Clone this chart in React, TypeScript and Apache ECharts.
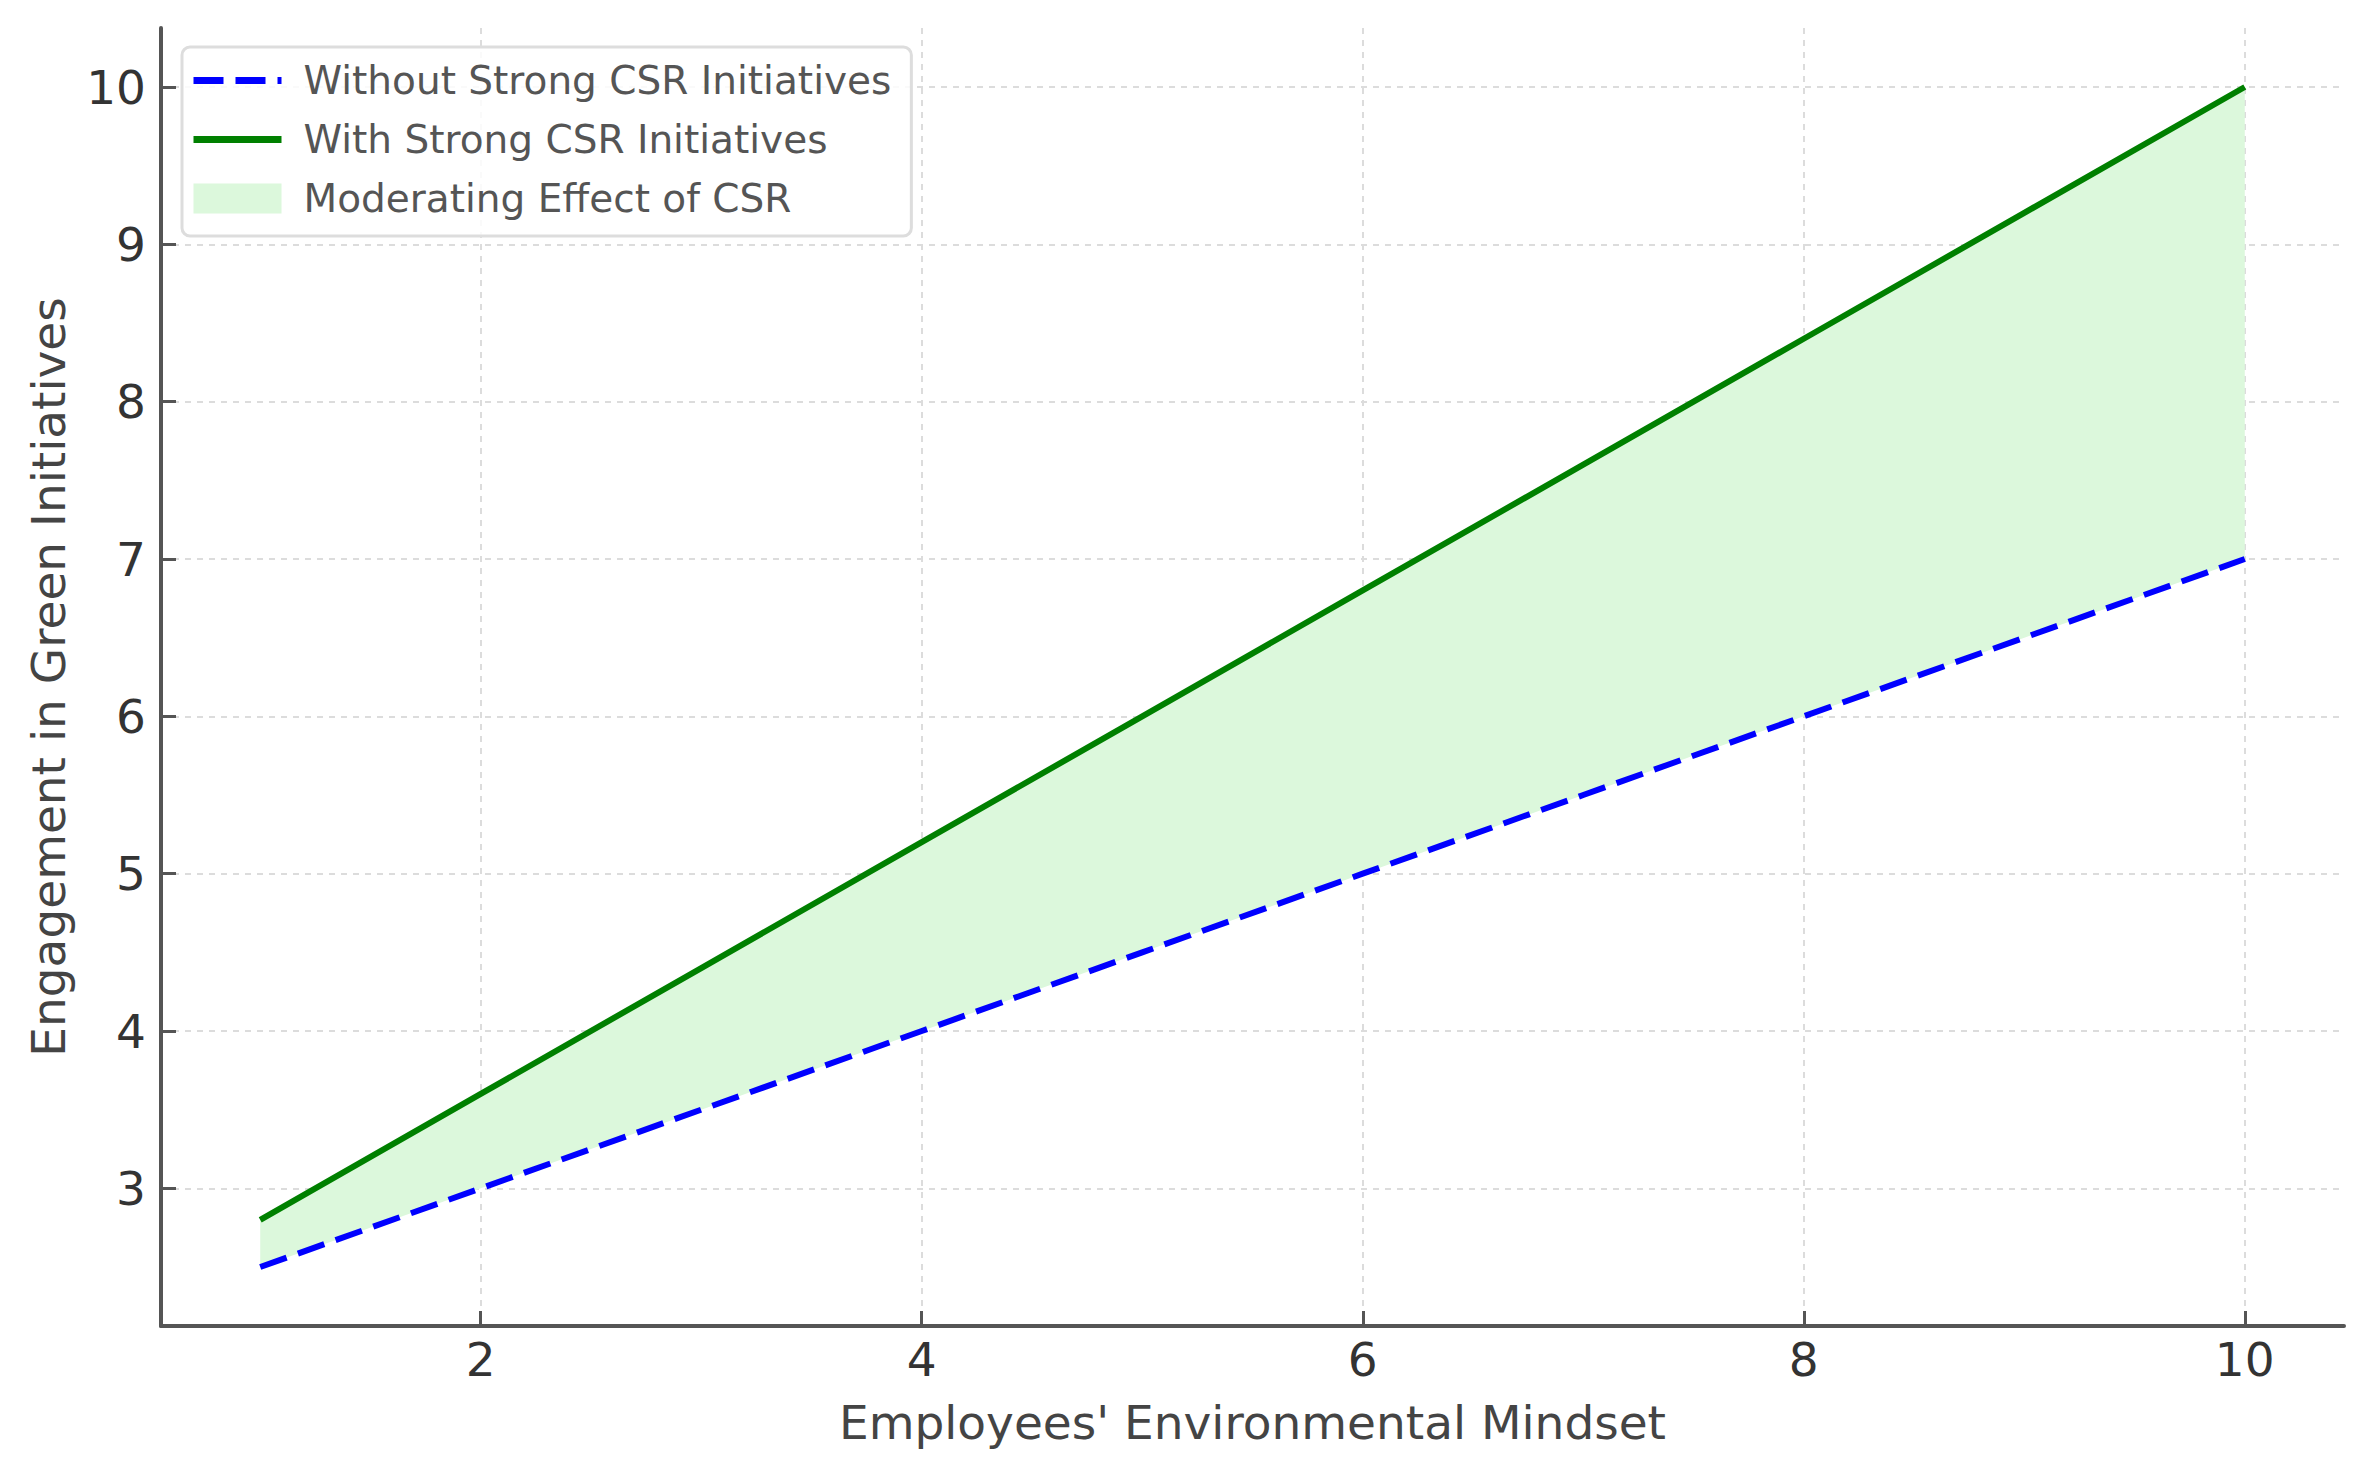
import React, { useEffect, useRef } from "react";
import * as echarts from "echarts";

const xValues = [1, 2, 3, 4, 5, 6, 7, 8, 9, 10];
const withoutCSR = [2.5, 3.0, 3.5, 4.0, 4.5, 5.0, 5.5, 6.0, 6.5, 7.0];
const withCSR = [2.8, 3.6, 4.4, 5.2, 6.0, 6.8, 7.6, 8.4, 9.2, 10.0];
const xTicks = [2, 4, 6, 8, 10];
const yTicks = [3, 4, 5, 6, 7, 8, 9, 10];
const seriesNames = [
  "Without Strong CSR Initiatives",
  "With Strong CSR Initiatives",
  "Moderating Effect of CSR",
];
const xName = "Employees' Environmental Mindset";
const yName = "Engagement in Green Initiatives";

const FONT = "DejaVu Sans";
const BAND = "#dcf8dc";

export default function App() {
  const ref = useRef<HTMLDivElement>(null);
  useEffect(() => {
    if (!ref.current) return;
    const chart = echarts.init(ref.current, undefined, { renderer: "svg" });
    const lower = xValues.map((x, i) => [x, withoutCSR[i]]);
    const upper = xValues.map((x, i) => [x, withCSR[i]]);
    const bandData = xValues.map((x, i) => [x, withoutCSR[i], withCSR[i]]);
    const axisColor = "#555555";
    const gridLine = { show: true, lineStyle: { color: "#dcdcdc", width: 2, type: [6, 6] } };
    chart.setOption({
      animation: false,
      backgroundColor: "#ffffff",
      grid: { left: 161, right: 27, top: 28, bottom: 147, containLabel: false, outerBoundsMode: "none" },
      legend: {
        orient: "vertical",
        left: 182,
        top: 47,
        padding: [14, 20, 18, 8],
        itemWidth: 88,
        itemHeight: 30,
        itemGap: 20,
        backgroundColor: "rgba(255,255,255,0.85)",
        borderColor: "#dddddd",
        borderWidth: 3,
        borderRadius: 8,
        textStyle: { fontFamily: FONT, fontSize: 39, color: "#555555", lineHeight: 39, padding: [0, 0, 0, 17] },
        data: [
          {
            name: seriesNames[0],
            itemStyle: { opacity: 0 },
            lineStyle: { color: "#0000ff", width: 7, type: [30, 12] },
          },
          {
            name: seriesNames[1],
            itemStyle: { opacity: 0 },
            lineStyle: { color: "#008000", width: 7 },
          },
          { name: seriesNames[2], icon: "rect", itemStyle: { color: BAND } },
        ],
      },
      xAxis: {
        type: "value",
        min: 0.55,
        max: 10.45,
        name: xName,
        nameLocation: "middle",
        nameGap: 73,
        nameTextStyle: { fontFamily: FONT, fontSize: 47, color: "#444444" },
        axisLine: { show: true, lineStyle: { color: axisColor, width: 4 } },
        axisTick: { show: true, inside: true, length: 15, customValues: xTicks, lineStyle: { color: axisColor, width: 3 } },
        axisLabel: { customValues: xTicks, margin: 10, fontFamily: FONT, fontSize: 47, color: "#333333" },
        splitLine: gridLine,
      },
      yAxis: {
        type: "value",
        min: 2.125,
        max: 10.375,
        name: yName,
        nameLocation: "middle",
        nameGap: 89,
        nameTextStyle: { fontFamily: FONT, fontSize: 47, color: "#444444" },
        axisLine: { show: true, lineStyle: { color: axisColor, width: 4 } },
        axisTick: { show: true, inside: true, length: 15, customValues: yTicks, lineStyle: { color: axisColor, width: 3 } },
        axisLabel: { customValues: yTicks, margin: 15, fontFamily: FONT, fontSize: 47, color: "#333333" },
        splitLine: gridLine,
      },
      series: [
        {
          name: seriesNames[2],
          type: "custom",
          data: bandData,
          encode: { x: 0, y: [1, 2] },
          silent: true,
          itemStyle: { color: BAND },
          z: 1,
          renderItem: (params: any, api: any) => {
            if (params.dataIndex !== 0) return null;
            const pts: number[][] = [];
            for (let i = 0; i < xValues.length; i++) pts.push(api.coord([xValues[i], withCSR[i]]));
            for (let i = xValues.length - 1; i >= 0; i--) pts.push(api.coord([xValues[i], withoutCSR[i]]));
            return { type: "polygon", shape: { points: pts }, style: { fill: BAND } };
          },
        },
        {
          name: seriesNames[0],
          type: "line",
          data: lower,
          symbol: "none",
          itemStyle: { color: "#0000ff" },
          lineStyle: { color: "#0000ff", width: 6, type: [28, 12] },
          z: 3,
        },
        {
          name: seriesNames[1],
          type: "line",
          data: upper,
          symbol: "none",
          itemStyle: { color: "#008000" },
          lineStyle: { color: "#008000", width: 6 },
          z: 4,
        },
      ],
    });
    return () => chart.dispose();
  }, []);
  return (
    <div
      ref={ref}
      style={{ position: "absolute", left: 0, top: 0, width: 2371, height: 1473, background: "#fff" }}
    />
  );
}
